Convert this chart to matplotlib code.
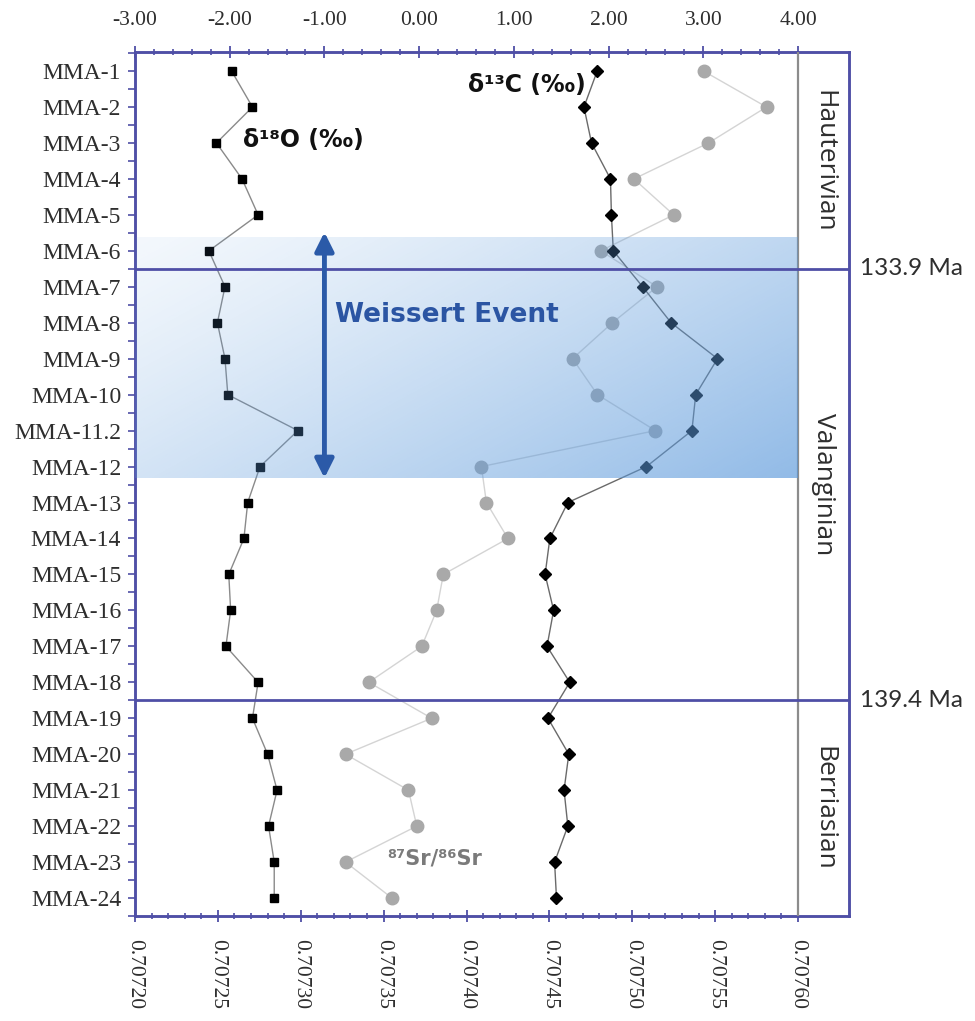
import numpy as np
import matplotlib
matplotlib.use("Agg")
import matplotlib.pyplot as plt
from matplotlib.ticker import FixedLocator, FormatStrFormatter

samples = ["MMA-1", "MMA-2", "MMA-3", "MMA-4", "MMA-5", "MMA-6", "MMA-7", "MMA-8",
           "MMA-9", "MMA-10", "MMA-11.2", "MMA-12", "MMA-13", "MMA-14", "MMA-15",
           "MMA-16", "MMA-17", "MMA-18", "MMA-19", "MMA-20", "MMA-21", "MMA-22",
           "MMA-23", "MMA-24"]

d18O = [-1.98, -1.76, -2.14, -1.87, -1.70, -2.22, -2.05, -2.13, -2.05, -2.02, -1.28,
        -1.68, -1.81, -1.85, -2.01, -1.99, -2.04, -1.70, -1.76, -1.60, -1.50, -1.59,
        -1.53, -1.53]

d13C = [1.88, 1.74, 1.82, 2.02, 2.03, 2.05, 2.36, 2.66, 3.15, 2.92, 2.88, 2.40,
        1.57, 1.38, 1.33, 1.42, 1.35, 1.59, 1.36, 1.58, 1.53, 1.57, 1.43, 1.45]

sr = [0.707543, 0.707581, 0.707546, 0.707501, 0.707525, 0.707481, 0.707515,
      0.707488, 0.707464, 0.707479, 0.707514, 0.707409, 0.707412, 0.707425,
      0.707386, 0.707382, 0.707373, 0.707341, 0.707379, 0.707327, 0.707365,
      0.707370, 0.707327, 0.707355]

top_ticks = [-3.0, -2.0, -1.0, 0.0, 1.0, 2.0, 3.0, 4.0]
bottom_ticks = [0.70720, 0.70725, 0.70730, 0.70735, 0.70740, 0.70745, 0.70750,
                0.70755, 0.70760]

stages = ["Hauterivian", "Valanginian", "Berriasian"]
stage_centers = [2.5, 11.5, 20.5]
boundaries = [5.5, 17.5]
boundary_labels = ["133.9 Ma", "139.4 Ma"]

FRAME = "#4f4fa6"
TXT = "#2e2e2e"
SERIF = ["Liberation Serif", "DejaVu Serif"]
SANS = ["Open Sans", "DejaVu Sans"]

fig = plt.figure(figsize=(9.75, 10.21), dpi=100)
W, H = 975, 1021
left, right, top, bottom = 135, 849, 52, 916
ax = fig.add_axes([left / W, 1 - bottom / H, (right - left) / W, (bottom - top) / H])

xmax_top = 4 + (849 - 798) / (663 / 7)
ax.set_xlim(-3, xmax_top)
ax.set_ylim(23.5, -0.53)

y = np.arange(len(samples))

# delta 18O
ax.plot(d18O, y, color="#8a8a8a", lw=1.0, zorder=3)
ax.plot(d18O, y, ls="none", marker="s", ms=6, color="black", zorder=4)
# delta 13C
ax.plot(d13C, y, color="#6a6a6a", lw=1.0, zorder=3)
ax.plot(d13C, y, ls="none", marker="D", ms=6.5, color="black", zorder=4)

# Sr on bottom axis
ax2 = ax.twiny()
sr_min = 0.70720
sr_max = sr_min + 0.0004 * (xmax_top + 3) / 7
ax2.set_xlim(sr_min, sr_max)
ax2.plot(sr, y, color="#d4d4d4", lw=1.0, zorder=2)
ax2.plot(sr, y, ls="none", marker="o", ms=9, color="#a9a9a9", zorder=2)
ax2.set_zorder(ax.get_zorder() - 1)
ax.patch.set_visible(False)

# y axis
ax.set_yticks(y)
ax.set_yticklabels(samples)
ax.yaxis.set_minor_locator(FixedLocator(list(np.arange(-0.5, 23.6, 1.0))))
ax.tick_params(axis="y", which="major", direction="out", length=5, width=1.2,
               color=FRAME, labelsize=17, labelcolor=TXT, pad=5)
ax.tick_params(axis="y", which="minor", direction="out", length=5, width=1.2, color=FRAME)
for lab in ax.get_yticklabels():
    lab.set_family(SERIF)
ax.set_ylim(23.5, -0.53)

# top axis ticks
ax.xaxis.tick_top()
ax.xaxis.set_major_locator(FixedLocator(top_ticks))
ax.xaxis.set_minor_locator(FixedLocator(list(np.round(np.arange(-3, 4.001, 0.2), 2))))
ax.xaxis.set_major_formatter(FormatStrFormatter("%.2f"))
ax.tick_params(axis="x", which="major", direction="inout", length=8, width=1.3,
               color=FRAME, labelsize=15.5, labelcolor=TXT, pad=12)
ax.tick_params(axis="x", which="minor", direction="inout", length=4, width=1.2, color=FRAME)
for lab in ax.get_xticklabels():
    lab.set_family(SERIF)

# bottom axis
ax2.xaxis.set_ticks_position("bottom")
ax2.xaxis.set_label_position("bottom")
ax2.xaxis.set_major_locator(FixedLocator(bottom_ticks))
ax2.xaxis.set_minor_locator(FixedLocator(list(np.round(np.arange(0.70720, 0.707601, 0.00001), 6))))
ax2.xaxis.set_major_formatter(FormatStrFormatter("%.5f"))
ax2.tick_params(axis="x", which="major", direction="inout", length=9, width=1.3,
                color=FRAME, labelsize=15.5, labelcolor=TXT, pad=12, labelrotation=-90)
ax2.tick_params(axis="x", which="minor", direction="inout", length=4, width=1.2, color=FRAME)
for lab in ax2.get_xticklabels():
    lab.set_family(SERIF)

for a in (ax, ax2):
    for s in a.spines.values():
        s.set_color(FRAME)
        s.set_linewidth(1.8)

# stage column separator
ax.axvline(4.0, color="#8c8c8c", lw=1.6, zorder=5)

# boundaries
for b, lbl in zip(boundaries, boundary_labels):
    ax.axhline(b, color=FRAME, lw=2.0, zorder=6)
    ax.text(xmax_top + 0.12, b, lbl, ha="left", va="center", fontsize=17.5,
            family=["Lato", "DejaVu Sans"], color=TXT, clip_on=False)

for st, c in zip(stages, stage_centers):
    ax.text((4.0 + xmax_top) / 2, c, st, rotation=-90, ha="center", va="center",
            fontsize=19, family=SANS, color=TXT)

# Weissert Event gradient shading (overlay)
ny, nx = 200, 300
u = np.linspace(0, 1, nx)[None, :]
v = np.linspace(0, 1, ny)[:, None]
t = np.clip(0.6 * u + 0.4 * v, 0, 1)
rgba = np.zeros((ny, nx, 4))
rgba[..., 0] = 0.36
rgba[..., 1] = 0.60
rgba[..., 2] = 0.86
rgba[..., 3] = 0.07 + 0.6 * t ** 1.2
ax.imshow(rgba, extent=[-3, 4, 11.32, 4.62], origin="upper", aspect="auto",
          interpolation="bilinear", zorder=5)
ax.set_xlim(-3, xmax_top)
ax.set_ylim(23.5, -0.53)

# arrow
ax.annotate("", xy=(-1.0, 4.48), xytext=(-1.0, 11.32),
            arrowprops=dict(arrowstyle="<|-|>", color="#2b5aa8", lw=3.5,
                            mutation_scale=28, shrinkA=0, shrinkB=0), zorder=7)

ax.text(-0.89, 6.79, "Weissert Event", fontsize=19, fontweight="bold",
        color="#2b55a3", ha="left", va="center", zorder=8)

ax.text(-1.86, 1.92, "δ¹⁸O (‰)", fontsize=17, fontweight="bold", color="#111111",
        ha="left", va="center", zorder=8)
ax.text(0.52, 0.40, "δ¹³C (‰)", fontsize=17, fontweight="bold", color="#111111",
        ha="left", va="center", zorder=8)
ax2.text(0.707352, 21.9, "⁸⁷Sr/⁸⁶Sr", fontsize=15, fontweight="bold", color="#7a7a7a",
         ha="left", va="center")

fig.savefig("out.png", dpi=100)
